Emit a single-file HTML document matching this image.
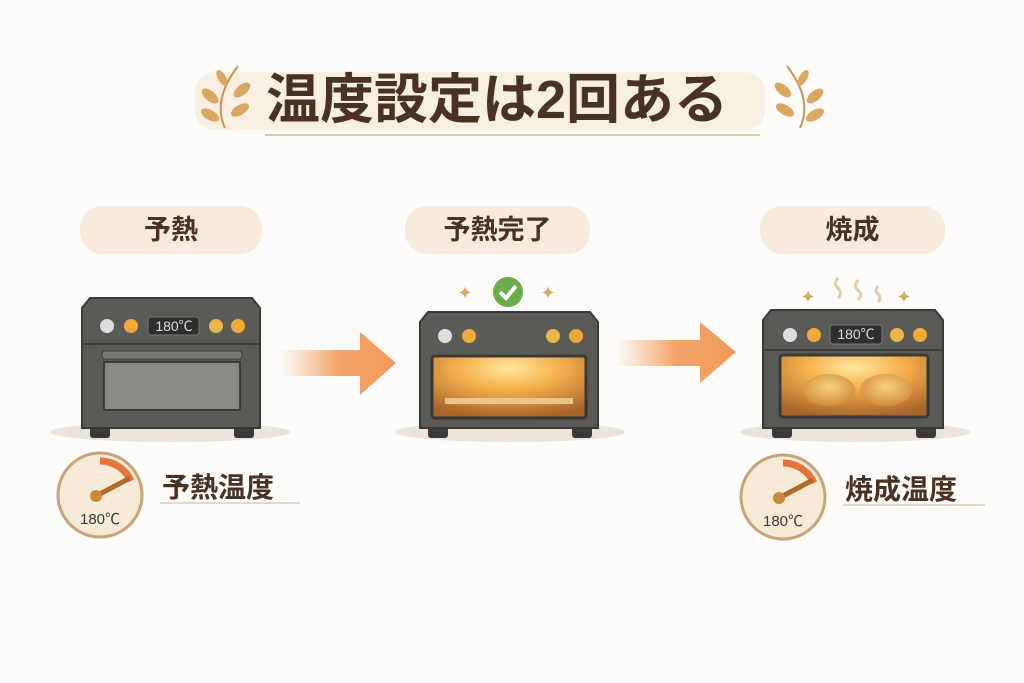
<!DOCTYPE html>
<html><head><meta charset="utf-8"><style>
body{margin:0;width:1024px;height:683px;background:#fdfcfa;overflow:hidden;position:relative;font-family:"Liberation Sans","Noto Sans CJK JP",sans-serif;}
.t{position:absolute;color:#4a3222;font-weight:bold;white-space:nowrap;}
.pill{position:absolute;background:#f8ebdc;border-radius:22px;height:48px;}
</style></head><body>
<svg width="1024" height="683" style="position:absolute;left:0;top:0">
<defs>
<linearGradient id="ar" x1="0" x2="1"><stop offset="0" stop-color="#f7b27a" stop-opacity="0"/><stop offset="0.5" stop-color="#f4a469"/><stop offset="1" stop-color="#f09a58"/></linearGradient>
<radialGradient id="glow" cx="0.5" cy="0.2" r="0.8"><stop offset="0" stop-color="#ffe9a0"/><stop offset="0.4" stop-color="#f6b24e"/><stop offset="1" stop-color="#a8652a"/></radialGradient>
<radialGradient id="bread" cx="0.5" cy="0.4" r="0.6"><stop offset="0" stop-color="#f5d27e"/><stop offset="1" stop-color="#d28c3c"/></radialGradient>
</defs>
<rect x="195" y="72" width="570" height="58" rx="20" fill="#f8efe3"/>
<line x1="265" y1="135" x2="760" y2="135" stroke="#e6c79e" stroke-width="2"/>
<g fill="#d9a760">
<path d="M225 128 Q212 100 238 66" stroke="#c9954f" stroke-width="2" fill="none"/>
<ellipse cx="210" cy="115" rx="10" ry="5" transform="rotate(30 210 115)"/><ellipse cx="240" cy="110" rx="10" ry="5" transform="rotate(-30 240 110)"/>
<ellipse cx="210" cy="96" rx="10" ry="5" transform="rotate(40 210 96)"/><ellipse cx="242" cy="90" rx="10" ry="5" transform="rotate(-40 242 90)"/>
<ellipse cx="222" cy="78" rx="9" ry="4" transform="rotate(60 222 78)"/>
<path d="M800 128 Q813 100 787 66" stroke="#c9954f" stroke-width="2" fill="none"/>
<ellipse cx="815" cy="115" rx="10" ry="5" transform="rotate(-30 815 115)"/><ellipse cx="785" cy="110" rx="10" ry="5" transform="rotate(30 785 110)"/>
<ellipse cx="815" cy="96" rx="10" ry="5" transform="rotate(-40 815 96)"/><ellipse cx="783" cy="90" rx="10" ry="5" transform="rotate(40 783 90)"/>
<ellipse cx="803" cy="78" rx="9" ry="4" transform="rotate(-60 803 78)"/>
</g>
<ellipse cx="170" cy="432" rx="120" ry="10" fill="#ece4d8"/>
<ellipse cx="510" cy="432" rx="115" ry="10" fill="#ece4d8"/>
<ellipse cx="855" cy="432" rx="115" ry="10" fill="#ece4d8"/>
<rect x="90" y="426" width="20" height="12" rx="3" fill="#3a3a38"/><rect x="234" y="426" width="20" height="12" rx="3" fill="#3a3a38"/>
<path d="M90 298 H252 L260 308 V428 H82 V308 Z" fill="#5a5a57" stroke="#3a3a38" stroke-width="2"/>
<line x1="82" y1="344" x2="260" y2="344" stroke="#3e3e3c" stroke-width="2"/>
<circle cx="107" cy="326" r="7" fill="#ddd"/><circle cx="131" cy="326" r="7" fill="#f0a93a"/>
<rect x="148" y="317" width="51" height="18" rx="3" fill="#2e2e2c" stroke="#777"/>
<circle cx="216" cy="326" r="7" fill="#e8b64a"/><circle cx="238" cy="326" r="7" fill="#f0a93a"/>
<rect x="102" y="351" width="140" height="8" rx="3" fill="#7a7a76" stroke="#3a3a38"/>
<rect x="104" y="362" width="136" height="48" fill="#8a8986" stroke="#3a3a38" stroke-width="2"/>
<rect x="428" y="426" width="20" height="12" rx="3" fill="#3a3a38"/><rect x="572" y="426" width="20" height="12" rx="3" fill="#3a3a38"/>
<path d="M428 312 H590 L598 322 V428 H420 V322 Z" fill="#5a5a57" stroke="#3a3a38" stroke-width="2"/>
<circle cx="445" cy="336" r="7" fill="#ddd"/><circle cx="469" cy="336" r="7" fill="#f0a93a"/>
<circle cx="553" cy="336" r="7" fill="#e8b64a"/><circle cx="576" cy="336" r="7" fill="#f0a93a"/>
<rect x="432" y="356" width="154" height="62" rx="3" fill="url(#glow)" stroke="#3a3a38" stroke-width="3"/>
<rect x="445" y="398" width="128" height="6" fill="#e8c58a"/>
<circle cx="508" cy="292" r="15" fill="#6bab4a"/><path d="M500 292 L506 298 L516 286" stroke="#fff" stroke-width="4" fill="none"/>
<text x="465" y="299" font-size="18" fill="#d9a760" text-anchor="middle">✦</text><text x="548" y="299" font-size="18" fill="#d9a760" text-anchor="middle">✦</text>
<rect x="772" y="426" width="20" height="12" rx="3" fill="#3a3a38"/><rect x="916" y="426" width="20" height="12" rx="3" fill="#3a3a38"/>
<path d="M771 310 H935 L943 320 V428 H763 V320 Z" fill="#5a5a57" stroke="#3a3a38" stroke-width="2"/>
<line x1="763" y1="350" x2="943" y2="350" stroke="#3e3e3c" stroke-width="2"/>
<circle cx="790" cy="335" r="7" fill="#ddd"/><circle cx="814" cy="335" r="7" fill="#f0a93a"/>
<rect x="830" y="325" width="52" height="19" rx="3" fill="#2e2e2c" stroke="#777"/>
<circle cx="897" cy="335" r="7" fill="#e8b64a"/><circle cx="920" cy="335" r="7" fill="#f0a93a"/>
<rect x="780" y="355" width="148" height="62" rx="3" fill="url(#glow)" stroke="#3a3a38" stroke-width="3"/>
<ellipse cx="829" cy="390" rx="26" ry="16" fill="url(#bread)"/><ellipse cx="886" cy="390" rx="26" ry="16" fill="url(#bread)"/>
<text x="808" y="303" font-size="18" fill="#d9a760" text-anchor="middle">✦</text><text x="904" y="303" font-size="18" fill="#d9a760" text-anchor="middle">✦</text>
<g stroke="#e9c9a6" stroke-width="3" fill="none"><path d="M838 278 q-5 6 0 10 q5 5 0 10"/><path d="M858 280 q-5 6 0 10 q5 5 0 10"/><path d="M878 286 q-4 5 0 8 q4 4 0 8"/></g>
<path d="M280 350 H360 V332 L396 363 L360 395 V376 H280 Z" fill="url(#ar)"/>
<path d="M615 340 H700 V322 L736 352 L700 383 V366 H615 Z" fill="url(#ar)"/>
<circle cx="100" cy="495" r="42" fill="#f7ebd8" stroke="#c9a47a" stroke-width="3"/>
<path d="M100 461 A34 34 0 0 1 131 481" stroke="#e8733a" stroke-width="7" fill="none"/>
<line x1="96" y1="496" x2="130" y2="478" stroke="#b56a2a" stroke-width="5"/><circle cx="96" cy="496" r="6" fill="#c98a3a"/>
<circle cx="783" cy="497" r="42" fill="#f7ebd8" stroke="#c9a47a" stroke-width="3"/>
<path d="M783 463 A34 34 0 0 1 814 483" stroke="#e8733a" stroke-width="7" fill="none"/>
<line x1="779" y1="498" x2="813" y2="480" stroke="#b56a2a" stroke-width="5"/><circle cx="779" cy="498" r="6" fill="#c98a3a"/>
<line x1="160" y1="503" x2="300" y2="503" stroke="#e6d8c6" stroke-width="2"/>
<line x1="843" y1="505" x2="985" y2="505" stroke="#e6d8c6" stroke-width="2"/>
</svg>
<div class="t" style="left:237px;top:70px;font-size:54px;line-height:60px;width:520px;text-align:center;">温度設定は2回ある</div>
<div class="pill" style="left:80px;top:206px;width:182px"></div>
<div class="pill" style="left:405px;top:206px;width:185px"></div>
<div class="pill" style="left:760px;top:206px;width:185px"></div>
<div class="t" style="left:80px;top:212px;width:182px;text-align:center;font-size:27px;line-height:36px">予熱</div>
<div class="t" style="left:405px;top:212px;width:185px;text-align:center;font-size:27px;line-height:36px">予熱完了</div>
<div class="t" style="left:760px;top:212px;width:185px;text-align:center;font-size:27px;line-height:36px">焼成</div>
<div class="t" style="left:149px;top:317px;width:50px;text-align:center;font-size:14px;line-height:18px;color:#ddd;font-weight:normal">180℃</div>
<div class="t" style="left:831px;top:325px;width:50px;text-align:center;font-size:14px;line-height:19px;color:#ddd;font-weight:normal">180℃</div>
<div class="t" style="left:162px;top:470px;font-size:28px;line-height:36px">予熱温度</div>
<div class="t" style="left:845px;top:472px;font-size:28px;line-height:36px">焼成温度</div>
<div class="t" style="left:70px;top:508px;width:60px;text-align:center;font-size:15px;font-weight:normal;color:#3a3a38">180℃</div>
<div class="t" style="left:753px;top:510px;width:60px;text-align:center;font-size:15px;font-weight:normal;color:#3a3a38">180℃</div>
</body></html>
